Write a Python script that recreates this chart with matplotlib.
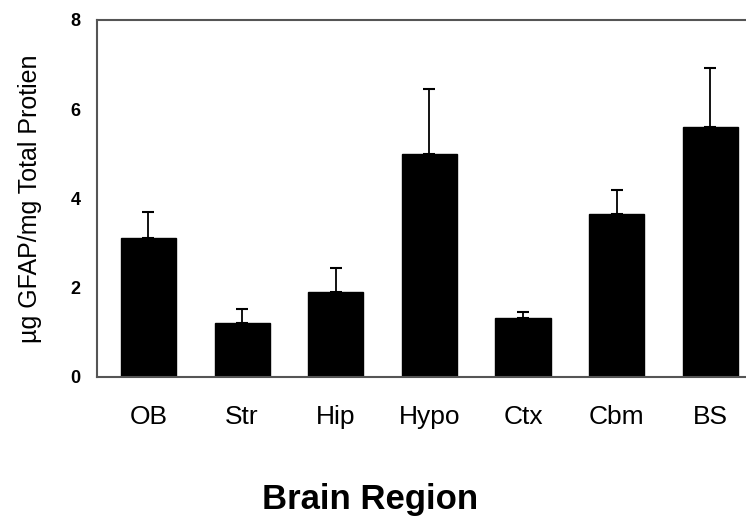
import matplotlib.pyplot as plt
import numpy as np

# --- Data ---
regions = ['OB', 'Str', 'Hip', 'Hypo', 'Ctx', 'Cbm', 'BS']
gfap = [3.12, 1.21, 1.90, 5.00, 1.33, 3.66, 5.61]
sem = [0.58, 0.31, 0.54, 1.46, 0.12, 0.53, 1.32]
yticks = [0, 2, 4, 6, 8]

plt.rcParams['font.family'] = ['Liberation Sans', 'DejaVu Sans']

fig = plt.figure(figsize=(7.46, 5.25), dpi=100)
ax = fig.add_axes([0.130, 0.282, 0.870, 0.680])

x = np.arange(len(regions))
ax.bar(x, gfap, width=0.59, color='black', edgecolor='black', zorder=2)
ax.errorbar(x, gfap, yerr=[np.zeros(len(sem)), sem], fmt='none',
            ecolor='black', elinewidth=1.3, capsize=4, capthick=1.5, zorder=1)

ax.set_xlim(-0.55, 6.38)
ax.set_ylim(0, 8)
ax.set_yticks(yticks)
ax.set_yticklabels([str(t) for t in yticks], fontsize=13, fontweight='bold')
ax.set_xticks(x)
ax.set_xticklabels(regions, fontsize=19)
ax.tick_params(axis='both', length=0)
ax.tick_params(axis='y', pad=12)
ax.tick_params(axis='x', pad=20)

for side in ['left', 'bottom', 'top']:
    ax.spines[side].set_color('#555555')
    ax.spines[side].set_linewidth(1.5)
ax.spines['right'].set_visible(False)

ax.set_ylabel('µg GFAP/mg Total Protien', fontsize=18, labelpad=20)
fig.text(0.496, 0.048, 'Brain Region', fontsize=25, fontweight='bold',
         ha='center', va='center')

plt.savefig('out.png', dpi=100)
